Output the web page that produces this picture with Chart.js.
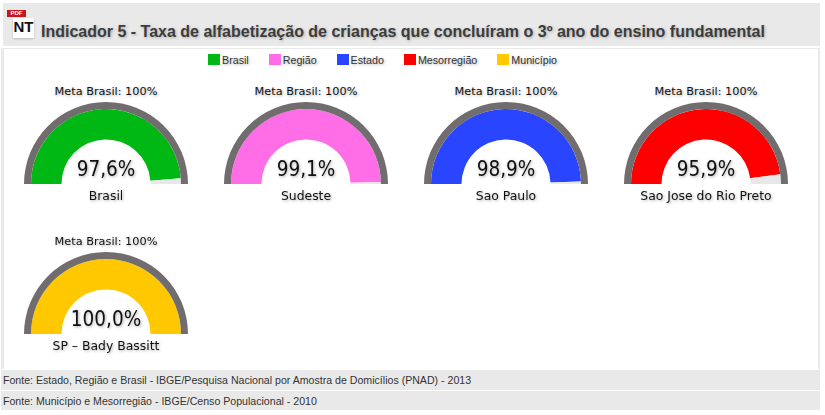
<!DOCTYPE html>
<html lang="pt">
<head>
<meta charset="utf-8">
<title>Indicador 5</title>
<script src="https://cdn.jsdelivr.net/npm/chart.js@4"></script>
<style>
html, body { margin: 0; padding: 0; background: #fff; }
body { position: relative; width: 825px; height: 415px; overflow: hidden; font-family: "Liberation Sans", Arial, sans-serif; }
.band { position: absolute; background: #e9e9e9; }
#head { left: 3px; top: 3px; width: 817px; height: 43px; }
#panelBack { left: 1px; top: 48px; width: 819px; height: 321px; }
#panel { position: absolute; left: 4px; top: 49px; width: 814px; height: 320px; background: #fff; }
#title { position: absolute; left: 41px; top: 23px; font-size: 16px; font-weight: bold; color: #3c3c3c; white-space: nowrap; text-shadow: 1px 1px 3px #aaa; }
#pdf { position: absolute; left: 7px; top: 10px; width: 19px; height: 7px; background: #c8171c; color: #fff; font-size: 6px; line-height: 7px; font-weight: bold; text-align: center; }
#nt { position: absolute; left: 13px; top: 18px; width: 21px; height: 20px; background: #fff; color: #111; font-size: 15px; line-height: 18px; font-weight: bold; text-align: center; box-shadow: 0 1px 2px #bbb; }
#legend { position: absolute; left: 208px; top: 54px; display: flex; gap: 20px; font-size: 10.7px; line-height: 12px; color: #333; text-shadow: 1px 1px 3px #aaa; }
#legend span { display: flex; align-items: center; }
#legend i { position: relative; top: -1px; width: 12px; height: 11px; margin-right: 2px; }
.foot { left: 1px; width: 819px; height: 20px; font-size: 10.6px; line-height: 21px; color: #333; text-indent: 2px; }
.gauge { position: absolute; width: 200px; height: 130px; }
.gauge canvas { position: absolute; left: 18px; top: 21px; }
.gauge div { position: absolute; left: 0; width: 200px; text-align: center; white-space: nowrap; font-family: "DejaVu Sans", sans-serif; color: #111; text-shadow: 1px 1px 3px #aaa; }
.meta { top: 4px; font-size: 11.3px; line-height: 14px; }
.valor { top: 76px; font-size: 20.5px; font-stretch: condensed; line-height: 24px; color: #222; }
.nome { top: 107px; font-size: 12.4px; line-height: 15px; }
</style>
</head>
<body>
<div class="band" id="head"></div>
<div id="pdf">PDF</div>
<div id="nt">NT</div>
<div id="title">Indicador 5 - Taxa de alfabetização de crianças que concluíram o 3º ano do ensino fundamental</div>
<div class="band" id="panelBack"></div>
<div id="panel"></div>
<div id="legend"></div>
<div id="gauges"></div>
<div class="band foot" style="top:370px">Fonte: Estado, Região e Brasil - IBGE/Pesquisa Nacional por Amostra de Domicílios (PNAD) - 2013</div>
<div class="band foot" style="top:391px;height:19px">Fonte: Município e Mesorregião - IBGE/Censo Populacional - 2010</div>

<script>
const legendLabels = ["Brasil", "Região", "Estado", "Mesorregião", "Município"];
const places = ["Brasil", "Sudeste", "Sao Paulo", "Sao Jose do Rio Preto", "SP - Bady Bassitt"];
const values = [97.6, 99.1, 98.9, 95.9, 100.0];
const meta = 100;
const colors = ["#00b813", "#ff6ee6", "#2a45ff", "#ff0000", "#ffc800"];

const legend = document.getElementById("legend");
legendLabels.forEach((label, i) => {
  const item = document.createElement("span");
  item.innerHTML = `<i style="background:${colors[i]}"></i>${label}`;
  legend.appendChild(item);
});

const gauges = document.getElementById("gauges");
places.forEach((place, i) => {
  const box = document.createElement("div");
  box.className = "gauge";
  box.style.left = (6 + 200 * (i % 4)) + "px";
  box.style.top = (81 + 150 * Math.floor(i / 4)) + "px";
  box.innerHTML = `<div class="meta">Meta Brasil: ${meta}%</div>` +
    `<canvas width="164" height="82"></canvas>` +
    `<div class="valor">${values[i].toFixed(1).replace(".", ",")}%</div>` +
    `<div class="nome">${place.replace(" - ", " – ")}</div>`;
  gauges.appendChild(box);

  new Chart(box.querySelector("canvas"), {
    type: "doughnut",
    data: {
      labels: [place, "Restante"],
      datasets: [
        { data: [meta], backgroundColor: ["#716d6e"], borderWidth: 0, weight: 7 },
        { data: [values[i], meta - values[i]], backgroundColor: [colors[i], "#e8e8e8"], borderWidth: 0, weight: 30.5 },
      ],
    },
    options: {
      responsive: false,
      animation: false,
      rotation: -90,
      circumference: 180,
      cutout: "54.3%",
      plugins: { legend: { display: false }, tooltip: { enabled: false } },
    },
  });
});
</script>
</body>
</html>
